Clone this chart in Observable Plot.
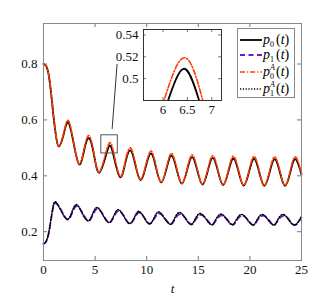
<!DOCTYPE html>
<html>
<head>
<meta charset="utf-8">
<script src="https://cdn.jsdelivr.net/npm/d3@7"></script>
<script src="https://cdn.jsdelivr.net/npm/@observablehq/plot@0.6"></script>
<style>
  body { margin: 0; background: white; }
  #wrap { position: relative; width: 332px; height: 299px; font-family: "Liberation Serif", serif; }
  #wrap > svg { position: absolute; overflow: visible; }
  g[aria-label="x-axis label"] text { font-style: italic; }
  #legend { position: absolute; left: 237px; top: 28px; width: 56px; height: 68px; border: 1px solid #888; background: white; }
  .row { position: absolute; left: 1px; height: 16px; line-height: 16px; font-size: 14px; white-space: nowrap; }
  .row svg { display: inline-block; vertical-align: top; margin-top: 5px; margin-right: 1px; }
  .st { display: inline-block; position: relative; width: 6px; height: 16px; vertical-align: top; }
  .st .up { position: absolute; left: 0; top: 0px; font-size: 8px; line-height: 8px; font-style: italic; }
  .st .dn { position: absolute; left: 0; top: 9px; font-size: 8px; line-height: 8px; }
</style>
</head>
<body>
<div id="wrap"></div>
<script>
// ---- data ----
const T0 = [0, 0.25, 0.5, 0.75, 1.0, 1.2, 1.48, 1.95, 2.4, 2.92, 3.45, 3.92, 4.4, 4.9, 5.4, 6.05, 6.42, 6.78, 7.4, 7.91, 8.42, 8.91, 9.4, 9.91, 10.42, 10.91, 11.4, 11.91, 12.4, 12.91, 13.4, 13.91, 14.4, 14.91, 15.4, 15.91, 16.4, 16.91, 17.4, 17.91, 18.4, 18.91, 19.4, 19.91, 20.4, 20.91, 21.4, 21.91, 22.4, 22.91, 23.4, 23.91, 24.4, 25];
const P0 = [0.800, 0.793, 0.762, 0.690, 0.603, 0.545, 0.505, 0.548, 0.591, 0.516, 0.441, 0.488, 0.535, 0.473, 0.411, 0.473, 0.509, 0.474, 0.396, 0.4435, 0.491, 0.438, 0.385, 0.4325, 0.480, 0.428, 0.376, 0.424, 0.472, 0.422, 0.372, 0.4195, 0.467, 0.418, 0.369, 0.4165, 0.464, 0.4155, 0.367, 0.4145, 0.462, 0.4135, 0.365, 0.413, 0.461, 0.4125, 0.364, 0.412, 0.460, 0.412, 0.364, 0.412, 0.460, 0.405];
const P0A = [0.800, 0.793, 0.763, 0.692, 0.605, 0.547, 0.507, 0.552, 0.598, 0.520, 0.443, 0.493, 0.544, 0.478, 0.413, 0.484, 0.519, 0.486, 0.398, 0.449, 0.500, 0.443, 0.387, 0.438, 0.489, 0.433, 0.378, 0.429, 0.480, 0.427, 0.374, 0.424, 0.475, 0.423, 0.371, 0.421, 0.472, 0.420, 0.369, 0.419, 0.470, 0.418, 0.367, 0.418, 0.469, 0.417, 0.366, 0.417, 0.468, 0.417, 0.366, 0.417, 0.468, 0.408];
const T1 = [0, 0.25, 0.5, 0.7, 0.9, 1.16, 1.7, 2.3, 2.75, 3.2, 3.75, 4.33, 4.75, 5.2, 5.75, 6.33, 6.8, 7.24, 7.8, 8.33, 8.8, 9.24, 9.75, 10.27, 10.7, 11.17, 11.7, 12.3, 12.7, 13.2, 13.75, 14.3, 14.7, 15.2, 15.75, 16.3, 16.7, 17.2, 17.75, 18.3, 18.7, 19.2, 19.75, 20.3, 20.7, 21.2, 21.75, 22.3, 22.7, 23.2, 23.75, 24.35, 25];
const P1 = [0.157, 0.164, 0.193, 0.236, 0.280, 0.302, 0.278, 0.244, 0.265, 0.292, 0.269, 0.239, 0.258, 0.282, 0.262, 0.233, 0.252, 0.274, 0.256, 0.229, 0.247, 0.268, 0.252, 0.228, 0.245, 0.265, 0.251, 0.227, 0.243, 0.263, 0.249, 0.226, 0.241, 0.260, 0.247, 0.225, 0.240, 0.258, 0.246, 0.225, 0.239, 0.257, 0.245, 0.224, 0.239, 0.257, 0.245, 0.224, 0.239, 0.257, 0.245, 0.224, 0.251];
const P1A = [0.157, 0.165, 0.196, 0.240, 0.285, 0.307, 0.275, 0.244, 0.270, 0.297, 0.266, 0.239, 0.263, 0.287, 0.260, 0.233, 0.256, 0.279, 0.254, 0.229, 0.251, 0.273, 0.250, 0.228, 0.249, 0.271, 0.249, 0.227, 0.248, 0.269, 0.247, 0.226, 0.246, 0.265, 0.245, 0.225, 0.244, 0.263, 0.244, 0.225, 0.244, 0.262, 0.243, 0.224, 0.243, 0.262, 0.243, 0.224, 0.243, 0.262, 0.243, 0.224, 0.255];
const xTicks = [0, 5, 10, 15, 20, 25];
const yTicks = [0.2, 0.4, 0.6, 0.8];
const insetXTicks = [6, 6.5, 7];
const insetYTicks = [0.5, 0.52, 0.54];
const zoomX = [5.6, 7.2];
const zoomY = [0.48, 0.545];
const connector = [{x1: 6.65, y1: 0.568, x2: 7.13, y2: 0.80}];
const seriesNames = ["p0", "p1", "p0A", "p1A"];

// ---- build table ----
const rows = [];
T0.forEach((t, i) => { rows.push({t, v: P0[i], s: "p0"}); });
T1.forEach((t, i) => { rows.push({t, v: P1[i], s: "p1"}); });
T0.forEach((t, i) => { rows.push({t, v: P0A[i], s: "p0A"}); });
T1.forEach((t, i) => { rows.push({t, v: P1A[i], s: "p1A"}); });

const styles = {
  p0:  {stroke: "#000000", strokeWidth: 1.8},
  p1:  {stroke: "#6a1bd0", strokeWidth: 1.8, strokeDasharray: "5,3.5"},
  p0A: {stroke: "#ff3a00", strokeWidth: 1.6, strokeDasharray: "5,2,1.2,2"},
  p1A: {stroke: "#000000", strokeWidth: 1.5, strokeDasharray: "1.2,1.6"}
};

function lines(clip) {
  return seriesNames.map(s => Plot.line(rows.filter(r => r.s === s), {x: "t", y: "v", curve: "natural", clip, ...styles[s]}));
}
const fmt = d => String(d);

const W = 332, H = 299, mL = 43, mR = 31, mT = 23, mB = 39;
const iw = W - mL - mR, ih = H - mT - mB, tl = 4;

const main = Plot.plot({
  width: W, height: H,
  marginLeft: mL, marginRight: mR, marginTop: mT, marginBottom: mB,
  style: {fontFamily: "Liberation Serif", fontSize: "13px", background: "white", color: "#111"},
  x: {domain: [0, 25]},
  y: {domain: [0.097, 0.945]},
  marks: [
    Plot.tickX(xTicks, {x: d => d, insetTop: ih - tl, stroke: "#777"}),
    Plot.tickX(xTicks, {x: d => d, insetBottom: ih - tl, stroke: "#777"}),
    Plot.tickY(yTicks, {y: d => d, insetRight: iw - tl, stroke: "#777"}),
    Plot.tickY(yTicks, {y: d => d, insetLeft: iw - tl, stroke: "#777"}),
    Plot.axisX(xTicks, {tickSize: 0, tickPadding: 4, tickFormat: fmt, label: "t", labelAnchor: "center", labelArrow: "none", labelOffset: 32, fontSize: 13}),
    Plot.axisY(yTicks, {tickSize: 0, tickPadding: 6, tickFormat: fmt, label: null, fontSize: 13}),
    ...lines(false),
    Plot.rect([{x1: zoomX[0], x2: zoomX[1], y1: zoomY[0], y2: zoomY[1]}], {x1: "x1", x2: "x2", y1: "y1", y2: "y2", fill: "none", stroke: "#555", strokeWidth: 1}),
    Plot.link(connector, {x1: "x1", y1: "y1", x2: "x2", y2: "y2", stroke: "#333", strokeWidth: 1}),
    Plot.frame({stroke: "#888"})
  ]
});
main.style.left = "0px"; main.style.top = "0px";

const imL = 34, imR = 2, imT = 2, imB = 20;
const inW = 78, inH = 71;
const inset = Plot.plot({
  width: imL + inW + imR, height: imT + inH + imB,
  marginLeft: imL, marginRight: imR, marginTop: imT, marginBottom: imB,
  style: {fontFamily: "Liberation Serif", fontSize: "13px", background: "transparent", color: "#111"},
  x: {domain: zoomX},
  y: {domain: zoomY},
  marks: [
    Plot.frame({fill: "white", stroke: "none"}),
    Plot.tickX(insetXTicks, {x: d => d, insetTop: inH - 3, stroke: "#777"}),
    Plot.tickX(insetXTicks, {x: d => d, insetBottom: inH - 3, stroke: "#777"}),
    Plot.tickY(insetYTicks, {y: d => d, insetRight: inW - 3, stroke: "#777"}),
    Plot.tickY(insetYTicks, {y: d => d, insetLeft: inW - 3, stroke: "#777"}),
    Plot.axisX(insetXTicks, {tickSize: 0, tickPadding: 4, tickFormat: fmt, label: null, fontSize: 13}),
    Plot.axisY(insetYTicks, {tickSize: 0, tickPadding: 5, tickFormat: fmt, label: null, fontSize: 13}),
    ...lines(true),
    Plot.frame({stroke: "#333"})
  ]
});
inset.style.left = (143 - imL) + "px"; inset.style.top = (29 - imT) + "px";

const wrap = document.getElementById("wrap");
wrap.appendChild(main);
wrap.appendChild(inset);

// legend
const legend = document.createElement("div");
legend.id = "legend";
const labels = {
  p0: '<i>p</i><span class="st"><span class="dn">0</span></span>(<i>t</i>)',
  p1: '<i>p</i><span class="st"><span class="dn">1</span></span>(<i>t</i>)',
  p0A: '<i>p</i><span class="st"><span class="up">A</span><span class="dn">0</span></span>(<i>t</i>)',
  p1A: '<i>p</i><span class="st"><span class="up">A</span><span class="dn">1</span></span>(<i>t</i>)'
};
const rowCenters = [11, 26, 43, 59.5];
seriesNames.forEach((s, i) => {
  const st = styles[s];
  const r = document.createElement("div");
  r.className = "row";
  r.style.top = (rowCenters[i] - 8) + "px";
  r.innerHTML = `<svg width="23" height="6"><line x1="1" y1="3" x2="23" y2="3" stroke="${st.stroke}" stroke-width="${st.strokeWidth}" ${st.strokeDasharray ? `stroke-dasharray="${st.strokeDasharray}"` : ""}/></svg>${labels[s]}`;
  legend.appendChild(r);
});
wrap.appendChild(legend);
</script>
</body>
</html>
